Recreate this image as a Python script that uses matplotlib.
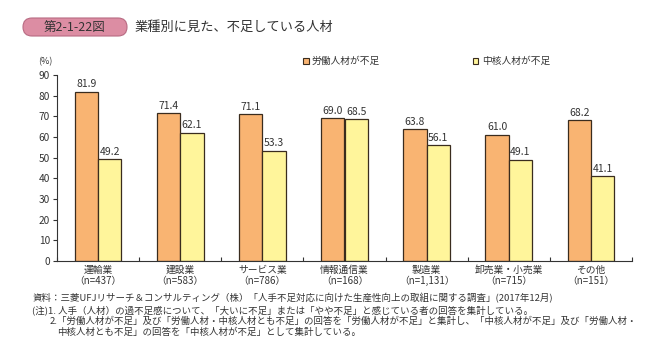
import matplotlib.pyplot as plt
import numpy as np
from matplotlib.patches import FancyBboxPatch, Rectangle

plt.rcParams['font.family'] = ['Noto Sans CJK JP', 'DejaVu Sans']

# data
categories = ['運輸業', '建設業', 'サービス業', '情報通信業', '製造業', '卸売業・小売業', 'その他']
n_labels = ['（n=437）', '（n=583）', '（n=786）', '（n=168）', '（n=1,131）', '（n=715）', '（n=151）']
labor = [81.9, 71.4, 71.1, 69.0, 63.8, 61.0, 68.2]
core = [49.2, 62.1, 53.3, 68.5, 56.1, 49.1, 41.1]
series_names = ['労働人材が不足', '中核人材が不足']

c_orange = '#F9B472'
c_yellow = '#FFF59B'
c_edge = '#3a2c1e'
txt = '#333333'

fig = plt.figure(figsize=(6.49, 3.5), dpi=100)
ax = fig.add_axes([57/649, 1-261/350, (632-57)/649, (261-75)/350])

x = np.arange(len(categories))
w = 0.285
b1 = ax.bar(x - w/2, labor, w, color=c_orange, edgecolor=c_edge, linewidth=0.9)
b2 = ax.bar(x + w/2, core, w, color=c_yellow, edgecolor=c_edge, linewidth=0.9)
for bars, vals in ((b1, labor), (b2, core)):
    for r, v in zip(bars, vals):
        ax.text(r.get_x() + r.get_width()/2, v + 1.2, f'{v:.1f}', ha='center', va='bottom',
                fontsize=7.5, color=txt)

ax.set_xlim(-0.5, len(categories) - 0.5)
ax.set_ylim(0, 90)
ax.set_yticks(range(0, 91, 10))
ax.tick_params(axis='y', labelsize=7.3, colors=txt, length=3, width=0.8, pad=2)
ax.set_xticks(x)
ax.set_xticklabels([f'{c}\n{n}' for c, n in zip(categories, n_labels)], fontsize=7,
                   color=txt, linespacing=1.1)
ax.tick_params(axis='x', length=0, pad=3)
ax.set_xticks(np.arange(-0.5, len(categories)), minor=True)
ax.tick_params(axis='x', which='minor', direction='in', length=3, width=0.8, color=txt)
for s in ('top', 'right'):
    ax.spines[s].set_visible(False)
for s in ('left', 'bottom'):
    ax.spines[s].set_color(txt)
    ax.spines[s].set_linewidth(0.8)

fig.text(38/649, 1-62/350, '(%)', fontsize=6.5, color=txt, va='center')

# title badge (inch coordinates so corners stay round)
badge = FancyBboxPatch((0.23, 3.5 - 0.36), 1.04, 0.18,
                       boxstyle='round,pad=0,rounding_size=0.09',
                       transform=fig.dpi_scale_trans, facecolor='#DC8DA3', edgecolor='#B86A82',
                       linewidth=0.8)
fig.add_artist(badge)
fig.text(75/649, 1-27/350, '第2-1-22図', fontsize=9, color=txt, ha='center', va='center')
fig.text(135/649, 1-27/350, '業種別に見た、不足している人材', fontsize=9.5, color=txt, va='center')

# legend
for lx, col, name in ((303, c_orange, series_names[0]), (473, c_yellow, series_names[1])):
    fig.add_artist(Rectangle((lx/649, 1-63.5/350), 5.5/649, 5.5/350, transform=fig.transFigure,
                             facecolor=col, edgecolor=c_edge, linewidth=0.8))
    fig.text((lx + 9)/649, 1-61/350, name, fontsize=7, color=txt, va='center')

notes = [
    (33, 298, '資料：三菱UFJリサーチ＆コンサルティング（株）「人手不足対応に向けた生産性向上の取組に関する調査」(2017年12月)'),
    (32, 310, '(注)1. 人手（人材）の過不足感について、「大いに不足」または「やや不足」と感じている者の回答を集計している。'),
    (50, 321.5, '2.「労働人材が不足」及び「労働人材・中核人材とも不足」の回答を「労働人材が不足」と集計し、「中核人材が不足」及び「労働人材・'),
    (57, 332.5, '中核人材とも不足」の回答を「中核人材が不足」として集計している。'),
]
for nx, ny, t in notes:
    fig.text(nx/649, 1-ny/350, t, fontsize=6.8, color=txt, va='center')

fig.savefig('out.png', dpi=100)
